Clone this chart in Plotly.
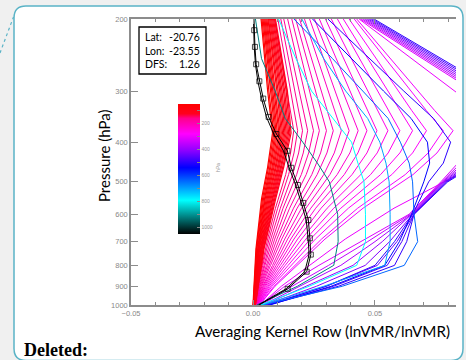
import plotly.graph_objects as go

# ---------------- data ----------------
P_RED = [200, 300, 380, 460, 550, 730, 1000]
RED_LEVELS = [50, 55, 60, 64, 69, 74, 79, 83, 88, 93, 98, 102, 107, 112, 116, 120]
RED_LINES = [
    [0.0033, 0.0060, 0.0080, 0.0060, 0.0035, 0.0012, 0.0000],
    [0.0037, 0.0065, 0.0085, 0.0064, 0.0039, 0.0014, 0.0001],
    [0.0041, 0.0071, 0.0090, 0.0069, 0.0043, 0.0016, 0.0001],
    [0.0045, 0.0076, 0.0095, 0.0073, 0.0047, 0.0019, 0.0002],
    [0.0049, 0.0082, 0.0100, 0.0078, 0.0050, 0.0021, 0.0003],
    [0.0053, 0.0087, 0.0106, 0.0082, 0.0054, 0.0023, 0.0003],
    [0.0057, 0.0092, 0.0111, 0.0086, 0.0058, 0.0025, 0.0004],
    [0.0061, 0.0098, 0.0116, 0.0091, 0.0062, 0.0027, 0.0005],
    [0.0064, 0.0103, 0.0121, 0.0095, 0.0066, 0.0030, 0.0005],
    [0.0068, 0.0109, 0.0126, 0.0100, 0.0070, 0.0032, 0.0006],
    [0.0072, 0.0114, 0.0131, 0.0104, 0.0074, 0.0034, 0.0007],
    [0.0076, 0.0119, 0.0136, 0.0108, 0.0078, 0.0036, 0.0007],
    [0.0080, 0.0125, 0.0141, 0.0113, 0.0081, 0.0038, 0.0008],
    [0.0084, 0.0130, 0.0146, 0.0117, 0.0085, 0.0041, 0.0009],
    [0.0088, 0.0136, 0.0151, 0.0122, 0.0089, 0.0043, 0.0009],
    [0.0092, 0.0141, 0.0156, 0.0126, 0.0093, 0.0045, 0.0010],
]

P_PINK = [200, 245, 290, 335, 375, 425, 480, 580, 690, 800, 900, 1000]
PINK_LEVELS = [150, 158, 166, 174, 182, 190, 198, 206, 214, 222, 230, 238, 246, 254, 262, 270, 278,
               286, 294, 302]
PINK_LINES = [
    [0.0089, 0.0114, 0.0135, 0.0152, 0.0167, 0.0154, 0.0134, 0.0092, 0.0060, 0.0037, 0.0018, 0.0013],
    [0.0102, 0.0128, 0.0150, 0.0168, 0.0183, 0.0168, 0.0146, 0.0101, 0.0066, 0.0040, 0.0020, 0.0014],
    [0.0114, 0.0142, 0.0167, 0.0186, 0.0203, 0.0187, 0.0162, 0.0112, 0.0073, 0.0045, 0.0022, 0.0014],
    [0.0126, 0.0157, 0.0184, 0.0205, 0.0224, 0.0206, 0.0179, 0.0123, 0.0081, 0.0049, 0.0025, 0.0014],
    [0.0142, 0.0176, 0.0205, 0.0228, 0.0248, 0.0228, 0.0198, 0.0136, 0.0089, 0.0055, 0.0027, 0.0015],
    [0.0159, 0.0195, 0.0226, 0.0251, 0.0272, 0.0250, 0.0218, 0.0150, 0.0098, 0.0060, 0.0030, 0.0015],
    [0.0175, 0.0215, 0.0249, 0.0277, 0.0301, 0.0277, 0.0241, 0.0166, 0.0108, 0.0066, 0.0033, 0.0016],
    [0.0191, 0.0235, 0.0272, 0.0303, 0.0329, 0.0303, 0.0263, 0.0181, 0.0118, 0.0072, 0.0036, 0.0017],
    [0.0211, 0.0259, 0.0300, 0.0333, 0.0362, 0.0333, 0.0290, 0.0199, 0.0130, 0.0080, 0.0040, 0.0017],
    [0.0232, 0.0284, 0.0328, 0.0363, 0.0394, 0.0362, 0.0315, 0.0217, 0.0142, 0.0087, 0.0043, 0.0018],
    [0.0252, 0.0309, 0.0358, 0.0397, 0.0431, 0.0397, 0.0345, 0.0237, 0.0155, 0.0095, 0.0047, 0.0019],
    [0.0272, 0.0334, 0.0387, 0.0430, 0.0467, 0.0430, 0.0374, 0.0257, 0.0168, 0.0103, 0.0051, 0.0019],
    [0.0297, 0.0365, 0.0421, 0.0468, 0.0508, 0.0467, 0.0406, 0.0279, 0.0183, 0.0112, 0.0056, 0.0020],
    [0.0321, 0.0395, 0.0458, 0.0509, 0.0553, 0.0509, 0.0442, 0.0304, 0.0199, 0.0122, 0.0061, 0.0021],
    [0.0346, 0.0428, 0.0497, 0.0553, 0.0602, 0.0554, 0.0482, 0.0331, 0.0217, 0.0132, 0.0066, 0.0022],
    [0.0370, 0.0461, 0.0538, 0.0600, 0.0654, 0.0602, 0.0523, 0.0360, 0.0235, 0.0144, 0.0072, 0.0023],
    [0.0394, 0.0495, 0.0581, 0.0651, 0.0711, 0.0654, 0.0569, 0.0391, 0.0256, 0.0156, 0.0078, 0.0024],
    [0.0415, 0.0532, 0.0630, 0.0711, 0.0780, 0.0718, 0.0624, 0.0429, 0.0281, 0.0172, 0.0086, 0.0026],
    [0.0425, 0.0551, 0.0658, 0.0745, 0.0820, 0.0754, 0.0656, 0.0451, 0.0295, 0.0180, 0.0090, 0.0027],
    [0.0435, 0.0632, 0.0798, 0.0933, 0.1050, 0.0966, 0.0840, 0.0578, 0.0378, 0.0231, 0.0116, 0.0030],
]

P_GRID = [200, 250, 300, 350, 400, 450, 500, 600, 700, 800, 900, 1000]
PURPLE_LEVELS = [320, 345, 370, 395, 420, 445, 470, 495]
PURPLE_LINES = [
    [0.0440, 0.0693, 0.0904, 0.1100, 0.1100, 0.0840, 0.0770, 0.0640, 0.044, 0.027, 0.013, 0.0030],
    [0.0448, 0.0703, 0.0916, 0.1130, 0.1120, 0.0852, 0.0774, 0.0645, 0.047, 0.031, 0.016, 0.0035],
    [0.0456, 0.0714, 0.0929, 0.1160, 0.1140, 0.0864, 0.0778, 0.0650, 0.050, 0.036, 0.019, 0.0040],
    [0.0464, 0.0725, 0.0942, 0.1190, 0.1160, 0.0876, 0.0782, 0.0650, 0.053, 0.041, 0.022, 0.0045],
    [0.0472, 0.0736, 0.0956, 0.1220, 0.1180, 0.0888, 0.0786, 0.0655, 0.056, 0.046, 0.026, 0.0050],
    [0.0480, 0.0747, 0.0970, 0.1250, 0.1200, 0.0900, 0.0790, 0.0660, 0.059, 0.051, 0.030, 0.0055],
    [0.0488, 0.0758, 0.0984, 0.1280, 0.1220, 0.0912, 0.0794, 0.0660, 0.061, 0.055, 0.033, 0.0060],
    [0.0496, 0.0769, 0.0997, 0.1310, 0.1240, 0.0924, 0.0798, 0.0660, 0.063, 0.058, 0.035, 0.0060],
]

LOW_LEVELS = [500, 540, 640, 700, 790, 920]
LOW_LINES = [
    [0.0307, 0.0476, 0.0618, 0.0740, 0.0810, 0.0780, 0.0720, 0.0655, 0.0580, 0.0500, 0.0300, 0.0060],
    [0.0244, 0.0402, 0.0535, 0.0648, 0.0715, 0.0724, 0.0700, 0.0650, 0.0600, 0.0540, 0.0320, 0.0070],
    [0.0168, 0.0326, 0.0450, 0.0554, 0.0604, 0.0640, 0.0654, 0.0660, 0.0675, 0.0620, 0.0366, 0.0040],
    [0.0200, 0.0290, 0.0380, 0.0470, 0.0520, 0.0545, 0.0558, 0.0562, 0.0562, 0.0540, 0.0290, 0.0035],
    [0.0105, 0.0176, 0.0240, 0.0327, 0.0404, 0.0430, 0.0455, 0.0461, 0.0461, 0.0425, 0.0230, 0.0030],
    [0.0010, 0.0035, 0.0091, 0.0132, 0.0204, 0.0264, 0.0313, 0.0347, 0.0349, 0.0331, 0.0182, 0.0015],
]

P_BLACK = [200, 213, 234, 258, 284, 313, 347, 382, 420, 462, 509, 563, 620, 687, 753, 829, 913, 1000]
BLACK_SQ = [0.0004, 0.0005, 0.0008, 0.0013, 0.0026, 0.0042, 0.0064, 0.0096, 0.0141, 0.0157,
            0.0184, 0.0206, 0.0227, 0.0233, 0.0237, 0.0220, 0.0142, 0.0025]
BLACK_2 = [0.0002, 0.0003, 0.0005, 0.0010, 0.0020, 0.0035, 0.0055, 0.0085, 0.0125, 0.0148,
           0.0175, 0.0198, 0.0218, 0.0226, 0.0230, 0.0212, 0.0135, 0.0022]

X_TICKS = [-0.05, 0.00, 0.05]
X_TICKTEXT = ["\u22120.05", "0.00", "0.05"]
Y_TICKS = [200, 300, 400, 500, 600, 700, 800, 900, 1000]
CB_TICKS = [100, 200, 300, 400, 500, 600, 700, 800, 900, 1000]
CB_TEXT = ["", "200", "", "400", "", "600", "", "800", "", "1000"]
INFO_LABELS = ["Lat:", "Lon:", "DFS:"]
INFO_VALUES = ["-20.76", "-23.55", "1.26"]

# ---------------- styling helpers ----------------
W, H = 466, 360
L, R, T, B = 131, 456, 19, 305
CMIN, CMAX = 50, 1050
STOPS = [(50, (255, 0, 0)), (125, (255, 0, 30)), (160, (255, 0, 140)), (280, (255, 0, 255)),
         (400, (150, 0, 255)), (540, (0, 0, 255)), (790, (0, 255, 255)), (1050, (0, 0, 0))]


def level_color(p):
    for (p0, c0), (p1, c1) in zip(STOPS[:-1], STOPS[1:]):
        if p0 <= p <= p1:
            f = (p - p0) / (p1 - p0)
            c = [round(a + (b - a) * f) for a, b in zip(c0, c1)]
            return "rgb(%d,%d,%d)" % tuple(c)
    return "rgb(0,0,0)"


# colour bar runs on negated pressure so that low pressure sits on top
colorscale = sorted([[(CMAX - p) / (CMAX - CMIN), "rgb(%d,%d,%d)" % c] for p, c in STOPS])


def px_x(px):
    return (px - L) / (R - L)


def px_y(py):
    return (B - py) / (B - T)


fig = go.Figure()


def add_line(xs, ps, color, width=1.0):
    fig.add_trace(go.Scatter(x=xs, y=ps, mode="lines", line=dict(color=color, width=width),
                             hoverinfo="skip", showlegend=False))


for xs, lev in zip(PINK_LINES, PINK_LEVELS):
    add_line(xs, P_PINK, level_color(lev))
for xs, lev in zip(PURPLE_LINES, PURPLE_LEVELS):
    add_line(xs, P_GRID, level_color(lev))
for xs, lev in zip(RED_LINES, RED_LEVELS):
    add_line(xs, P_RED, level_color(lev), 1.2)
for xs, lev in zip(LOW_LINES, LOW_LEVELS):
    add_line(xs, P_GRID, level_color(lev))

add_line(BLACK_2, P_BLACK, "black", 1.0)
msize = [0] + [5] * (len(P_BLACK) - 2) + [0]
fig.add_trace(go.Scatter(x=BLACK_SQ, y=P_BLACK, mode="lines+markers",
                         line=dict(color="black", width=1.0),
                         marker=dict(symbol="square-open", size=msize, color="black",
                                     line=dict(width=1)),
                         hoverinfo="skip", showlegend=False))

# colorbar
fig.add_trace(go.Scatter(x=[None], y=[None], mode="markers", showlegend=False, hoverinfo="skip",
                         marker=dict(color=[-CMIN], cmin=-CMAX, cmax=-CMIN, colorscale=colorscale,
                                     showscale=True,
                                     colorbar=dict(x=px_x(178), xanchor="left", xpad=0, ypad=0,
                                                   y=px_y(169), yanchor="middle",
                                                   len=130 / (B - T), lenmode="fraction",
                                                   thickness=22, thicknessmode="pixels",
                                                   outlinewidth=0,
                                                   tickvals=[-v for v in CB_TICKS],
                                                   ticktext=CB_TEXT, ticks="inside", ticklen=3,
                                                   tickcolor="#888",
                                                   tickfont=dict(size=5, color="#999",
                                                                 family="Liberation Sans")))))

# page decorations
def rrect(x0, y0, x1, y1, r):
    pts = [
        ("M", x0 + r, y0), ("L", x1 - r, y0), ("Q", x1, y0, x1, y0 + r), ("L", x1, y1 - r),
        ("Q", x1, y1, x1 - r, y1), ("L", x0 + r, y1), ("Q", x0, y1, x0, y1 - r),
        ("L", x0, y0 + r), ("Q", x0, y0, x0 + r, y0)]
    s = ""
    for p in pts:
        cmd = p[0]
        coords = p[1:]
        parts = []
        for i in range(0, len(coords), 2):
            parts.append("%.5f,%.5f" % (px_x(coords[i]), px_y(coords[i + 1])))
        s += cmd + " " + " ".join(parts) + " "
    return s + "Z"


TEAL = "#5ab3c6"
shapes = [
    dict(type="path", xref="paper", yref="paper", path=rrect(14, 6, 463, 360.5, 12),
         fillcolor="white", line=dict(color=TEAL, width=1.5), layer="below"),
    dict(type="line", xref="paper", yref="paper", x0=px_x(0), y0=px_y(53), x1=px_x(13.5),
         y1=px_y(17), line=dict(color=TEAL, width=1.2, dash="dot"), layer="below"),
    dict(type="rect", xref="paper", yref="paper", x0=px_x(139), y0=px_y(27), x1=px_x(206),
         y1=px_y(74), line=dict(color="black", width=1.3), fillcolor="white", layer="above"),
]

annotations = [
    dict(text="Pressure (hPa)", x=px_x(104), y=px_y(156), xref="paper", yref="paper",
         textangle=-90, showarrow=False, font=dict(family="Lato", size=15, color="black"),
         xanchor="center", yanchor="middle"),
    dict(text="Averaging Kernel Row (lnVMR/lnVMR)", x=px_x(322), y=px_y(331), xref="paper",
         yref="paper", showarrow=False, font=dict(family="Lato", size=15.2, color="black"),
         xanchor="center", yanchor="middle"),
    dict(text="<b>Deleted:</b>", x=px_x(22), y=px_y(350), xref="paper", yref="paper",
         showarrow=False, font=dict(family="Liberation Serif", size=18, color="black"),
         xanchor="left", yanchor="middle"),
    dict(text="hPa", x=px_x(218), y=px_y(168), xref="paper", yref="paper", textangle=-90,
         showarrow=False, font=dict(family="Liberation Sans", size=5, color="#999"),
         xanchor="center", yanchor="middle"),
]
for i, (lab, val) in enumerate(zip(INFO_LABELS, INFO_VALUES)):
    yy = [37, 51, 64][i]
    annotations.append(dict(text=lab, x=px_x(145), y=px_y(yy), xref="paper", yref="paper",
                            showarrow=False, xanchor="left", yanchor="middle", xshift=-2,
                            font=dict(family="Lato", size=10.5, color="black")))
    annotations.append(dict(text=val, x=px_x(200), y=px_y(yy), xref="paper", yref="paper",
                            showarrow=False, xanchor="right", yanchor="middle", xshift=2,
                            font=dict(family="Lato", size=10.5, color="black")))

AX = "#8c8c8c"
fig.update_layout(
    width=W, height=H, margin=dict(l=L, r=W - R, t=T, b=H - B),
    paper_bgcolor="#f0f0f0", plot_bgcolor="rgba(0,0,0,0)",
    shapes=shapes, annotations=annotations,
    xaxis=dict(range=[-0.05, 0.0832], tickvals=X_TICKS, ticktext=X_TICKTEXT, ticks="inside",
               ticklen=5, tickcolor=AX, tickwidth=1, showline=True, linecolor=AX, linewidth=1.5,
               mirror="ticks", showgrid=False, zeroline=False,
               minor=dict(dtick=0.01, tick0=0, ticks="inside", ticklen=3, tickcolor=AX,
                          showgrid=False),
               tickfont=dict(family="Liberation Sans", size=7.5, color="#888")),
    yaxis=dict(type="log", range=[3, 2.30103], tickvals=Y_TICKS,
               ticktext=[str(v) for v in Y_TICKS], ticks="inside", ticklen=7, tickcolor=AX,
               showline=True, linecolor=AX, linewidth=1.5, mirror=False, showgrid=False,
               zeroline=False, tickfont=dict(family="Liberation Sans", size=7.5, color="#888")),
)

fig.write_html("out.html", config={"displayModeBar": False},
               post_script="document.body.style.margin='0';")
